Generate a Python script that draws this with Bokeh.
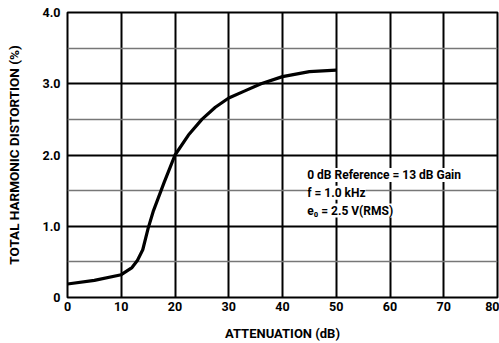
from bokeh.plotting import figure
from bokeh.models import FixedTicker, Label, Range1d
from bokeh.embed import file_html
from bokeh.resources import INLINE

# Data
atten_db = [0, 5, 10, 12, 13, 14, 15, 16, 17, 18, 19, 20, 22.5, 25, 27.5, 30, 33, 36, 40, 45, 50]
thd_pct = [0.19, 0.24, 0.32, 0.42, 0.52, 0.67, 0.97, 1.22, 1.42, 1.62, 1.81, 2.0, 2.28, 2.5, 2.67, 2.8, 2.9, 3.0, 3.1, 3.17, 3.19]

x_ticks = [0, 10, 20, 30, 40, 50, 60, 70, 80]
y_ticks = [0, 1, 2, 3, 4]
y_minor = [0.5, 1.5, 2.5, 3.5]
y_tick_labels = {0: "0", 1: "1.0", 2: "2.0", 3: "3.0", 4: "4.0"}
notes = ["0 dB Reference = 13 dB Gain", "f = 1.0 kHz", "e\u2080 = 2.5 V(RMS)"]
note_y = [1.72, 1.47, 1.22]

FONT = "Roboto"

p = figure(width=499, height=343, output_backend="svg", toolbar_location=None,
           x_range=Range1d(0, 80), y_range=Range1d(0, 4),
           min_border_left=67, min_border_right=2, min_border_top=12, min_border_bottom=45)
p.background_fill_color = "white"
p.border_fill_color = "white"
p.outline_line_color = "black"
p.outline_line_width = 2

p.xaxis.ticker = FixedTicker(ticks=x_ticks)
p.yaxis.ticker = FixedTicker(ticks=y_ticks, minor_ticks=y_minor)
p.yaxis.major_label_overrides = y_tick_labels

for ax in (p.xaxis[0], p.yaxis[0]):
    ax.axis_line_color = None
    ax.major_tick_line_color = None
    ax.minor_tick_line_color = None
    ax.major_tick_out = 0
    ax.major_tick_in = 0
    ax.minor_tick_out = 0
    ax.minor_tick_in = 0
    ax.major_label_text_font = FONT
    ax.major_label_text_font_style = "bold"
    ax.major_label_text_font_size = "12.5px"
    ax.major_label_text_color = "black"
    ax.axis_label_text_font = FONT
    ax.axis_label_text_font_style = "bold"
    ax.axis_label_text_font_size = "13px"
    ax.axis_label_text_color = "black"

p.yaxis.axis_label_text_font_size = "13.5px"
p.xaxis.axis_label = "ATTENUATION (dB)"
p.yaxis.axis_label = "TOTAL HARMONIC DISTORTION (%)"
p.xaxis.major_label_standoff = 4
p.yaxis.major_label_standoff = 7
p.xaxis.axis_label_standoff = 12
p.yaxis.axis_label_standoff = 18

p.xgrid.grid_line_color = "black"
p.xgrid.grid_line_width = 2
p.xgrid.grid_line_alpha = 1
p.ygrid.grid_line_color = "black"
p.ygrid.grid_line_width = 2
p.ygrid.minor_grid_line_color = "#777777"
p.ygrid.minor_grid_line_width = 1.5

p.line(atten_db, thd_pct, line_color="black", line_width=3.2)

for txt, yy in zip(notes, note_y):
    p.add_layout(Label(x=44.6, y=yy, text=txt, text_font=FONT, text_font_style="bold",
                       text_font_size="12px", text_color="black", text_baseline="middle",
                       background_fill_color="white"))

open("out.html", "w").write(file_html(p, INLINE))
